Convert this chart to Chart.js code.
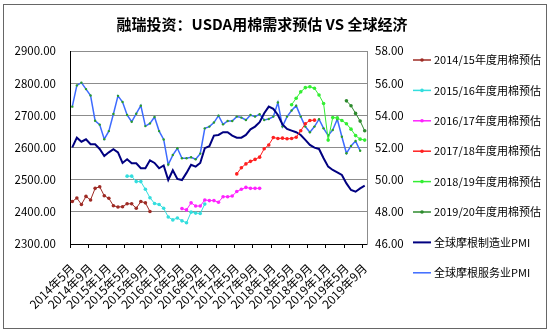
<!DOCTYPE html>
<html>
<head>
<meta charset="utf-8">
<script src="https://cdn.jsdelivr.net/npm/chart.js@4"></script>
<style>
  html, body { margin: 0; padding: 0; background: #fff; }
  #wrap { width: 550px; height: 333px; }
</style>
</head>
<body>
<div id="wrap"><canvas id="chart" width="550" height="333"></canvas></div>
<script>
// monthly categories, May 2014 - Sep 2019
const months = [
  "2014年5月", "2014年6月", "2014年7月", "2014年8月", "2014年9月", "2014年10月", "2014年11月", "2014年12月",
  "2015年1月", "2015年2月", "2015年3月", "2015年4月", "2015年5月", "2015年6月", "2015年7月", "2015年8月", "2015年9月", "2015年10月", "2015年11月", "2015年12月",
  "2016年1月", "2016年2月", "2016年3月", "2016年4月", "2016年5月", "2016年6月", "2016年7月", "2016年8月", "2016年9月", "2016年10月", "2016年11月", "2016年12月",
  "2017年1月", "2017年2月", "2017年3月", "2017年4月", "2017年5月", "2017年6月", "2017年7月", "2017年8月", "2017年9月", "2017年10月", "2017年11月", "2017年12月",
  "2018年1月", "2018年2月", "2018年3月", "2018年4月", "2018年5月", "2018年6月", "2018年7月", "2018年8月", "2018年9月", "2018年10月", "2018年11月", "2018年12月",
  "2019年1月", "2019年2月", "2019年3月", "2019年4月", "2019年5月", "2019年6月", "2019年7月", "2019年8月", "2019年9月"
];

// USDA world cotton consumption forecasts (left axis), each from its first month
const use1415 = [2432, 2443, 2423, 2448, 2437, 2473, 2478, 2450, 2442, 2419, 2415, 2416, 2425, 2425, 2411, 2432, 2428, 2401];
const use1516 = [2511, 2511, 2494, 2494, 2470, 2444, 2426, 2423, 2411, 2384, 2375, 2381, 2372, 2366, 2399, 2396, 2395, 2424];
const use1617 = [2410, 2406, 2428, 2418, 2418, 2437, 2435, 2435, 2430, 2447, 2447, 2449, 2463, 2470, 2476, 2473, 2473, 2473];
const use1718 = [2518, 2537, 2549, 2557, 2563, 2570, 2596, 2608, 2631, 2628, 2629, 2627, 2628, 2632, 2652, 2674, 2684, 2685];
const use1819 = [2733, 2753, 2773, 2786, 2789, 2784, 2763, 2737, 2623, 2693, 2692, 2684, 2674, 2657, 2637, 2626, 2623];
const use1920 = [2745, 2730, 2706, 2682, 2652];

// JPMorgan global PMI (right axis), from 2014年5月
const pmiMfg = [
  52.01, 52.61, 52.36, 52.51, 52.20, 52.20, 51.91, 51.47, 51.70, 51.89, 51.70, 51.04, 51.27, 51.02, 51.02, 50.71,
  50.71, 51.20, 51.04, 50.71, 50.88, 49.98, 50.58, 50.05, 49.98, 50.42, 50.93, 50.81, 51.04, 51.96, 52.08, 52.74,
  52.78, 52.95, 52.95, 52.74, 52.61, 52.61, 52.78, 53.13, 53.30, 53.57, 54.13, 54.54, 54.40, 54.02, 53.44, 53.15,
  53.05, 52.95, 52.78, 52.47, 52.16, 51.99, 51.91, 51.33, 50.81, 50.60, 50.46, 50.29, 49.77, 49.36, 49.25, 49.46,
  49.63
];
const pmiSvc = [
  54.54, 55.86, 56.03, 55.63, 55.23, 53.66, 53.42, 52.52, 53.02, 54.08, 55.21, 54.83, 54.02, 53.60, 54.10, 54.60,
  53.33, 53.50, 53.90, 53.02, 52.50, 50.94, 51.53, 51.95, 51.33, 51.33, 51.39, 51.27, 51.62, 53.19, 53.30, 53.55,
  53.98, 53.44, 53.65, 53.65, 53.92, 53.86, 53.71, 54.02, 53.92, 54.07, 53.71, 53.77, 53.92, 54.80, 53.30, 53.92,
  54.30, 54.60, 53.92, 53.30, 52.95, 53.30, 53.76, 53.19, 52.75, 53.09, 53.76, 52.67, 51.64, 52.10, 52.40, 51.80
];

const leftTicks = { min: 2300, max: 2900, step: 100 };
const rightTicks = { min: 46, max: 58, step: 2 };

const font = '"Noto Sans CJK SC", "Noto Sans", sans-serif';

function pad(start, values) {
  const out = months.map(() => null);
  const k = months.indexOf(start);
  values.forEach((v, j) => { out[k + j] = v; });
  return out;
}

const cotton = [
  { label: "2014/15年度用棉预估", start: "2014年5月", values: use1415, color: "#9e2b25" },
  { label: "2015/16年度用棉预估", start: "2015年5月", values: use1516, color: "#33dede" },
  { label: "2016/17年度用棉预估", start: "2016年5月", values: use1617, color: "#ff22ff" },
  { label: "2017/18年度用棉预估", start: "2017年5月", values: use1718, color: "#ff2020" },
  { label: "2018/19年度用棉预估", start: "2018年5月", values: use1819, color: "#33ee33" },
  { label: "2019/20年度用棉预估", start: "2019年5月", values: use1920, color: "#2e8b2e" }
];

const datasets = cotton.map(s => ({
  label: s.label,
  data: pad(s.start, s.values),
  yAxisID: "y",
  borderColor: s.color,
  backgroundColor: s.color,
  borderWidth: 1,
  pointRadius: 1.8,
  pointBorderWidth: 0,
  pointBackgroundColor: s.color,
  tension: 0
}));

datasets.push({
  label: "全球摩根制造业PMI",
  data: pmiMfg,
  yAxisID: "y2",
  borderColor: "#000080",
  borderWidth: 2,
  pointRadius: 0,
  tension: 0
});
datasets.push({
  label: "全球摩根服务业PMI",
  data: pmiSvc,
  yAxisID: "y2",
  borderColor: "#3d6bff",
  borderWidth: 1.5,
  pointRadius: 1.2,
  pointBorderWidth: 0,
  pointBackgroundColor: "#2a9d2a",
  tension: 0
});

const legendItems = cotton.map(s => ({ label: s.label, color: s.color, width: 1.5, marker: true }))
  .concat([
    { label: "全球摩根制造业PMI", color: "#000080", width: 2, marker: false },
    { label: "全球摩根服务业PMI", color: "#3d6bff", width: 1.5, marker: false }
  ]);

const decor = {
  id: "decor",
  beforeDraw(chart) {
    const ctx = chart.ctx;
    ctx.save();
    ctx.fillStyle = "#fff";
    ctx.fillRect(0, 0, chart.width, chart.height);
    ctx.restore();
  },
  afterDraw(chart) {
    const ctx = chart.ctx;
    ctx.save();
    // title
    ctx.fillStyle = "#000";
    ctx.font = "bold 15px " + font;
    ctx.textAlign = "center";
    ctx.textBaseline = "middle";
    ctx.fillText("融瑞投资：USDA用棉需求预估 VS 全球经济", 262, 24);
    // legend
    ctx.font = "11px " + font;
    ctx.textAlign = "left";
    legendItems.forEach((it, k) => {
      const y = 60 + k * 30.4;
      ctx.strokeStyle = it.color;
      ctx.lineWidth = it.width;
      ctx.beginPath();
      ctx.moveTo(413, y);
      ctx.lineTo(431, y);
      ctx.stroke();
      if (it.marker) {
        ctx.fillStyle = it.color;
        ctx.beginPath();
        ctx.arc(422, y, 1.8, 0, Math.PI * 2);
        ctx.fill();
      }
      ctx.fillStyle = "#000";
      ctx.fillText(it.label, 434, y);
    });
    // outer frame
    ctx.strokeStyle = "#666";
    ctx.lineWidth = 1;
    ctx.strokeRect(3.5, 4.5, 543, 324);
    ctx.restore();
  }
};

new Chart(document.getElementById("chart"), {
  type: "line",
  data: { labels: months, datasets: datasets },
  plugins: [decor],
  options: {
    responsive: false,
    animation: false,
    devicePixelRatio: 1,
    layout: { padding: { left: 10, right: 143, top: 51, bottom: 0 } },
    plugins: {
      legend: { display: false },
      tooltip: { enabled: false },
      title: { display: false }
    },
    scales: {
      x: {
        type: "category",
        offset: true,
        grid: {
          offset: true,
          drawOnChartArea: false,
          drawTicks: true,
          tickLength: 4,
          color: c => (c.index % 4 === 0 ? "#000" : "rgba(0,0,0,0)")
        },
        border: { color: "#000", width: 1 },
        ticks: {
          autoSkip: false,
          minRotation: 45,
          maxRotation: 45,
          padding: 13,
          color: "#000",
          font: { family: font, size: 12 },
          callback: (v, i) => (i % 4 === 0 ? months[i] : "")
        },
        afterFit: s => { s.height = 89; }
      },
      y: {
        position: "left",
        min: leftTicks.min,
        max: leftTicks.max,
        grid: { color: "#8c8c8c", drawTicks: false, lineWidth: 1 },
        border: { color: "#000", width: 1 },
        ticks: {
          stepSize: leftTicks.step,
          padding: 14,
          color: "#000",
          font: { family: font, size: 11.5 },
          callback: v => v.toFixed(2)
        },
        afterFit: s => { s.width = 60; }
      },
      y2: {
        position: "right",
        min: rightTicks.min,
        max: rightTicks.max,
        grid: { drawOnChartArea: false, drawTicks: false },
        border: { color: "#8c8c8c", width: 1 },
        ticks: {
          stepSize: rightTicks.step,
          padding: 8,
          color: "#000",
          font: { family: font, size: 11.5 },
          callback: v => v.toFixed(2)
        },
        afterFit: s => { s.width = 40; }
      }
    }
  }
});
</script>
</body>
</html>
